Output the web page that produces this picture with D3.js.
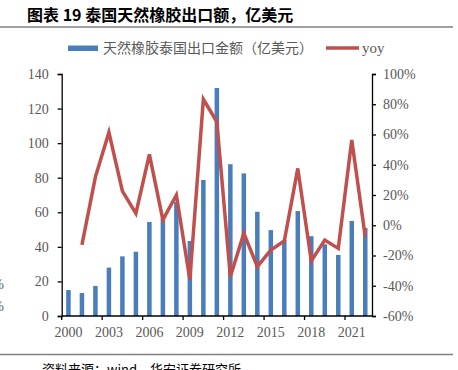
<!DOCTYPE html>
<html><head><meta charset="utf-8">
<script src="https://cdn.jsdelivr.net/npm/d3@7/dist/d3.min.js"></script>
<style>
body{margin:0;background:#fff;}
svg{display:block;}
</style></head>
<body>
<svg id="c" width="458" height="370"></svg>
<script>
const years = ["2000","2001","2002","2003","2004","2005","2006","2007","2008","2009","2010","2011","2012","2013","2014","2015","2016","2017","2018","2019","2020","2021","2022"];
const exportValue = [15, 13.3, 17.4, 28, 34.5, 37.2, 54.4, 56.5, 66, 43.4, 78.7, 131.9, 87.8, 82.5, 60.3, 49.7, 44, 60.7, 46.2, 41.5, 35.3, 55, 50.9];
const yoy = [null, -13, 32, 61.4, 22.6, 7.9, 46.9, 3.5, 20, -36, 83.3, 68.4, -34, -5.3, -27.4, -16.4, -10.4, 37.6, -23.6, -9.8, -15.3, 56.4, -7.6];
const leftTicks = [0, 20, 40, 60, 80, 100, 120, 140];
const rightTicks = [-60, -40, -20, 0, 20, 40, 60, 80, 100];
const xLabelYears = ["2000","2003","2006","2009","2012","2015","2018","2021"];

const svg = d3.select("#c");
const L = 61.7, R = 372, T = 74, B = 316;
const gray = "#595959";
const serif = "'Liberation Serif','Times New Roman',serif";
const cjk = "'Noto Sans CJK SC',sans-serif";

const x = d3.scaleBand().domain(years).range([L, R]).padding(0);
const yL = d3.scaleLinear().domain([0, 140]).range([B, T]);
const yR = d3.scaleLinear().domain([-60, 100]).range([B, T]);

// Title
svg.append("text").attr("x", 27).attr("y", 21)
  .attr("font-family", cjk).attr("font-weight", "bold").attr("font-size", 16).attr("fill", "#000")
  .text("图表 19  泰国天然橡胶出口额，亿美元");
svg.append("line").attr("x1", 0).attr("x2", 453).attr("y1", 27).attr("y2", 27)
  .attr("stroke", "#808080").attr("stroke-width", 1.5);

// Legend
svg.append("rect").attr("x", 68).attr("y", 45.5).attr("width", 30).attr("height", 5.5).attr("fill", "#4A7EBB");
svg.append("text").attr("x", 103).attr("y", 53).attr("font-family", cjk).attr("font-size", 14)
  .attr("fill", gray).text("天然橡胶泰国出口金额（亿美元）");
svg.append("line").attr("x1", 326).attr("x2", 359).attr("y1", 48).attr("y2", 48)
  .attr("stroke", "#C0504D").attr("stroke-width", 3.5);
svg.append("text").attr("x", 362).attr("y", 53).attr("font-family", serif).attr("font-size", 15)
  .attr("fill", gray).text("yoy");

// Bars
const bw = 4.5;
svg.append("g").selectAll("rect").data(years).join("rect")
  .attr("x", (d) => x(d) + x.bandwidth() / 2 - bw / 2)
  .attr("y", (d, i) => yL(exportValue[i]))
  .attr("width", bw)
  .attr("height", (d, i) => yL(0) - yL(exportValue[i]))
  .attr("fill", "#4A7EBB");

// Line
const line = d3.line()
  .defined((d) => d.v !== null)
  .x((d) => x(d.y) + x.bandwidth() / 2)
  .y((d) => yR(d.v));
svg.append("path").datum(years.map((y, i) => ({ y: y, v: yoy[i] })))
  .attr("d", line).attr("fill", "none").attr("stroke", "#C0504D").attr("stroke-width", 3.5)
  .attr("stroke-linejoin", "miter");

// Left axis
const gL = svg.append("g").attr("transform", `translate(${L},0)`)
  .call(d3.axisLeft(yL).tickValues(leftTicks).tickSize(4).tickPadding(9));
// Right axis
const gR = svg.append("g").attr("transform", `translate(${R},0)`)
  .call(d3.axisRight(yR).tickValues(rightTicks).tickSize(4).tickPadding(7).tickFormat((d) => d + "%"));
// Bottom axis
const xTick = d3.scaleLinear().domain([0, years.length]).range([L, R]);
const gB = svg.append("g").attr("transform", `translate(0,${B})`);
gB.append("line").attr("x1", L).attr("x2", R).attr("stroke", "#000").attr("stroke-width", 1.3);
gB.selectAll("line.t").data(xLabelYears).join("line").attr("class", "t")
  .attr("x1", (d) => x(d)).attr("x2", (d) => x(d)).attr("y1", 0).attr("y2", 4)
  .attr("stroke", "#000").attr("stroke-width", 1.3);
gB.selectAll("text").data(xLabelYears).join("text")
  .attr("x", (d) => x(d) + x.bandwidth() / 2).attr("y", 21)
  .attr("text-anchor", "middle").attr("font-family", serif).attr("font-size", 14).attr("fill", gray)
  .text((d) => d);

[gL, gR].forEach((g) => {
  g.select(".domain").attr("stroke", "#000").attr("stroke-width", 1.3);
  g.selectAll(".tick line").attr("stroke", "#000").attr("stroke-width", 1.3);
  g.selectAll(".tick text").attr("font-family", serif).attr("font-size", 14).attr("fill", gray);
});

// cut-off fragments at the left edge
svg.append("text").attr("x", 4).attr("y", 289).attr("text-anchor", "end").attr("font-family", serif)
  .attr("font-size", 14).attr("fill", gray).text("0%");
svg.append("text").attr("x", 4).attr("y", 311).attr("text-anchor", "end").attr("font-family", serif)
  .attr("font-size", 14).attr("fill", gray).text("0%");

// Footer
svg.append("line").attr("x1", 0).attr("x2", 453).attr("y1", 354.5).attr("y2", 354.5)
  .attr("stroke", "#808080").attr("stroke-width", 1.5);
svg.append("text").attr("x", 42).attr("y", 374).attr("font-family", cjk).attr("font-size", 13)
  .attr("fill", "#000").text("资料来源：wind，华安证券研究所");
</script>
</body></html>
